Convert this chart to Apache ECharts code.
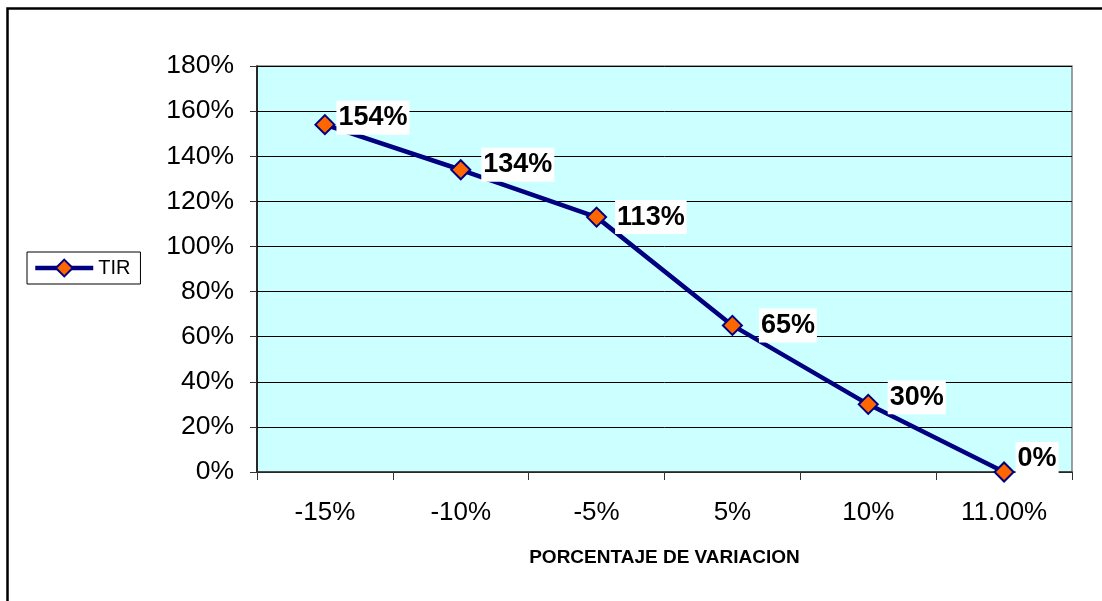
<!DOCTYPE html>
<html>
<head>
<meta charset="utf-8">
<title>TIR</title>
<script src="https://cdn.jsdelivr.net/npm/echarts@6/dist/echarts.min.js"></script>
<style>
  html, body { margin: 0; padding: 0; background: #fff; }
  #chart { width: 1102px; height: 601px; }
</style>
</head>
<body>
<div id="chart"></div>
<script>
// Variation scenarios on the x axis and the resulting TIR (in %)
const categories = ['-15%', '-10%', '-5%', '5%', '10%', '11.00%'];
const tirValues = [154, 134, 113, 65, 30, 0];
const seriesName = 'TIR';
const axisTitle = 'PORCENTAJE DE VARIACION';

// Per-point nudge of the value labels, in pixels [dx, dy]
const labelNudge = [[1, -7], [10, -5], [8, 0], [16, 0], [9, -7], [1, -13]];

const FONT = '"Liberation Sans", Arial, sans-serif';
const NAVY = '#000080';
const ORANGE = '#FF6600';

const chart = echarts.init(document.getElementById('chart'), null, { renderer: 'canvas' });

const seriesData = tirValues.map((v, i) => ({
  value: v,
  label: { offset: labelNudge[i] }
}));

chart.setOption({
  animation: false,
  backgroundColor: '#ffffff',
  graphic: [{
    type: 'rect',
    shape: { x: 7.5, y: 8.5, width: 1300, height: 800 },
    style: { fill: 'none', stroke: '#000', lineWidth: 2.5 },
    silent: true
  }],
  legend: {
    data: [seriesName],
    orient: 'vertical',
    left: 27,
    top: 252,
    padding: [6, 10, 6, 6],
    borderColor: '#000',
    borderWidth: 1,
    backgroundColor: '#fff',
    itemWidth: 58,
    itemHeight: 21,
    itemGap: 4,
    lineStyle: { color: NAVY, width: 4.5 },
    itemStyle: { color: ORANGE, borderColor: NAVY, borderWidth: 2 },
    textStyle: { fontFamily: FONT, fontSize: 20, color: '#000' }
  },
  grid: {
    left: 257,
    right: 30,
    top: 66,
    bottom: 129,
    show: true,
    backgroundColor: '#CCFFFF',
    borderColor: '#808080',
    borderWidth: 1.5
  },
  xAxis: {
    type: 'category',
    data: categories,
    boundaryGap: true,
    name: axisTitle,
    nameLocation: 'middle',
    nameGap: 76,
    nameTextStyle: { fontFamily: FONT, fontSize: 19, fontWeight: 'bold', color: '#000' },
    axisLine: { lineStyle: { color: '#333', width: 1.5 } },
    axisTick: { show: true, length: 8, lineStyle: { color: '#333' } },
    axisLabel: { fontFamily: FONT, fontSize: 26, color: '#000', margin: 28 }
  },
  yAxis: {
    type: 'value',
    min: 0,
    max: 180,
    interval: 20,
    axisLine: { show: true, lineStyle: { color: '#000', width: 1.5 } },
    axisTick: { show: true, length: 7, lineStyle: { color: '#333' } },
    axisLabel: {
      fontFamily: FONT, fontSize: 26.5, color: '#000', margin: 23,
      formatter: v => v + '%'
    },
    splitLine: { show: true, lineStyle: { color: '#000', width: 1 } }
  },
  series: [{
    name: seriesName,
    type: 'line',
    data: seriesData,
    symbol: 'diamond',
    symbolSize: 19,
    lineStyle: { color: NAVY, width: 4.5 },
    itemStyle: { color: ORANGE, borderColor: NAVY, borderWidth: 2 },
    label: {
      show: true,
      position: 'right',
      distance: 0,
      formatter: p => p.value + '%',
      fontFamily: FONT,
      fontSize: 27,
      fontWeight: 'bold',
      color: '#000',
      backgroundColor: '#fff',
      padding: [4, 2, 3, 2]
    },
    z: 3
  }]
});
</script>
</body>
</html>
